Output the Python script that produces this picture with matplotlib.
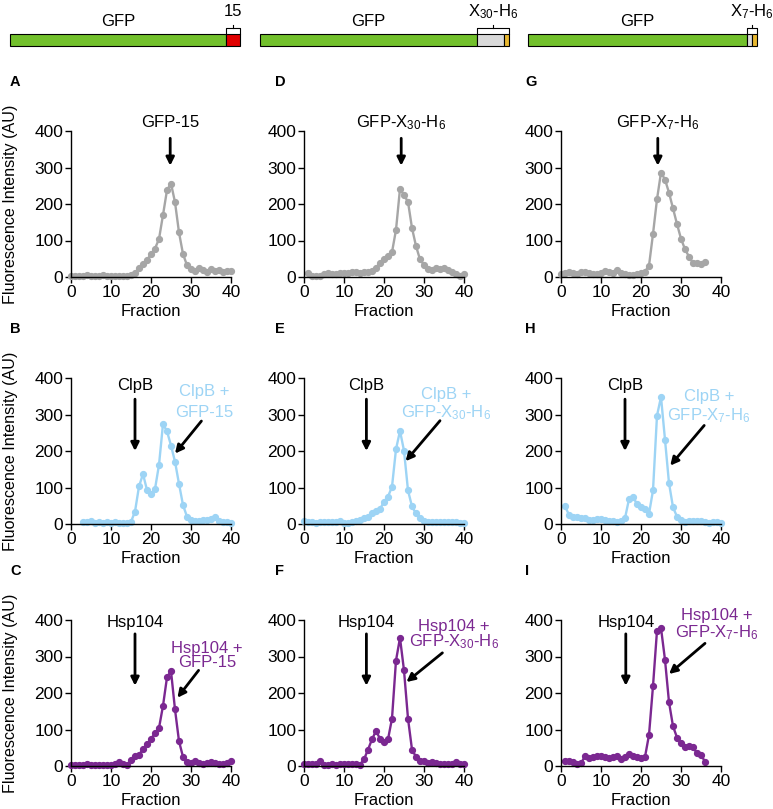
import matplotlib
matplotlib.use("Agg")
import matplotlib.pyplot as plt
from matplotlib.patches import Rectangle

plt.rcParams["font.family"] = ["Liberation Sans", "DejaVu Sans"]
plt.rcParams["mathtext.fontset"] = "custom"
plt.rcParams["mathtext.rm"] = "Liberation Sans"
plt.rcParams["mathtext.it"] = "Liberation Sans"

GRAY = "#a6a6a6"
BLUE = "#9dd4f5"
PURPLE = "#7b2891"
FS = 12

# ---------------------------------------------------------------- data
x30 = "X$\\mathregular{_{30}}$-H$\\mathregular{_6}$"
x7 = "X$\\mathregular{_7}$-H$\\mathregular{_6}$"
tags = ["15", x30, x7]

a_x = list(range(0, 41))
a_y = [3, 3, 2, 4, 6, 4, 3, 2, 5, 3, 3, 3, 3, 3, 3, 5, 11, 25, 36, 47, 62,
       78, 104, 170, 238, 256, 205, 122, 63, 32, 22, 17, 24, 18, 14, 22, 16,
       18, 15, 17, 17]

b_x = list(range(3, 41))
b_y = [6, 6, 7, 3, 5, 4, 5, 4, 5, 3, 3, 3, 6, 34, 103, 137, 93, 83, 96, 162,
       274, 254, 215, 171, 110, 52, 20, 11, 8, 8, 10, 12, 13, 19, 7, 6, 5, 4]

c_x = list(range(0, 41))
c_y = [4, 4, 4, 4, 5, 4, 4, 4, 4, 4, 4, 5, 12, 5, 2, 16, 27, 30, 47, 59, 74,
       90, 104, 165, 243, 260, 155, 68, 25, 12, 9, 14, 7, 5, 7, 10, 7, 5, 5,
       7, 14]

d_x = list(range(1, 41))
d_y = [10, 3, 4, 4, 7, 10, 7, 7, 10, 10, 12, 13, 13, 10, 14, 14, 16, 26, 38,
       48, 58, 68, 129, 242, 224, 206, 134, 85, 48, 33, 23, 20, 25, 22, 24,
       20, 14, 9, 4, 7]

e_x = list(range(0, 41))
e_y = [9, 6, 5, 4, 5, 6, 5, 6, 6, 9, 4, 4, 6, 8, 11, 16, 20, 29, 36, 41, 61,
       75, 102, 205, 255, 201, 92, 48, 29, 16, 9, 6, 6, 5, 5, 6, 5, 5, 5, 4,
       4]

f_x = list(range(0, 41))
f_y = [5, 5, 5, 6, 13, 4, 4, 6, 4, 5, 5, 5, 5, 5, 4, 18, 45, 73, 96, 75, 66,
       73, 130, 289, 351, 262, 130, 45, 25, 15, 14, 9, 12, 7, 5, 5, 5, 6, 10,
       5, 5]

g_x = list(range(0, 37))
g_y = [8, 11, 15, 11, 8, 14, 13, 11, 8, 9, 11, 16, 15, 11, 18, 11, 8, 6, 6,
       8, 11, 15, 31, 118, 213, 286, 267, 231, 188, 145, 105, 76, 56, 38, 38,
       36, 40]

h_x = list(range(1, 41))
h_y = [49, 25, 20, 20, 17, 16, 11, 11, 15, 15, 11, 8, 7, 6, 8, 16, 68, 75,
       54, 46, 41, 28, 92, 297, 348, 231, 112, 46, 20, 11, 6, 8, 9, 9, 8, 6,
       4, 5, 5, 4]

i_x = list(range(1, 37))
i_y = [15, 15, 10, 5, 7, 27, 21, 25, 27, 28, 25, 21, 24, 28, 19, 24, 32, 27,
       24, 21, 25, 85, 219, 371, 378, 291, 175, 109, 78, 62, 51, 55, 51, 35,
       30, 12]

letters = ["A", "B", "C", "D", "E", "F", "G", "H", "I"]
series = [(a_x, a_y), (b_x, b_y), (c_x, c_y),
          (d_x, d_y), (e_x, e_y), (f_x, f_y),
          (g_x, g_y), (h_x, h_y), (i_x, i_y)]
row_colors = [GRAY, BLUE, PURPLE]
chaperones = [None, "ClpB", "Hsp104"]

# ---------------------------------------------------------------- figure
W, H = 773, 809
fig = plt.figure(figsize=(W / 100, H / 100), dpi=100)

# construct diagrams along the top (pixel units)
top = fig.add_axes([0, 1 - 60 / H, 1, 60 / H])
top.set_xlim(0, W)
top.set_ylim(60, 0)
top.set_axis_off()

constructs = [
    # green start, tag start, yellow start, end
    (10, 226, None, 240),
    (260, 477, 504, 509),
    (528, 747, 752, 757),
]
for (g0, t0, y0, end), tag in zip(constructs, tags):
    top.add_patch(Rectangle((g0, 34), t0 - g0, 12, fc="#72c02c", ec="black", lw=0.8))
    if y0 is None:
        top.add_patch(Rectangle((t0, 34), end - t0, 12, fc="#e00000", ec="black", lw=0.8))
    else:
        top.add_patch(Rectangle((t0, 34), y0 - t0, 12, fc="#d9d9d9", ec="black", lw=0.8))
        top.add_patch(Rectangle((y0, 34), end - y0, 12, fc="#e8b830", ec="black", lw=0.8))
    mid = (t0 + end) / 2
    top.plot([t0, t0, end, end], [34, 28, 28, 34], color="black", lw=0.8)
    top.plot([mid, mid], [28, 24.5], color="black", lw=0.8)
    top.text(mid, 12, tag, ha="center", va="center", fontsize=FS)
    top.text((g0 + t0) / 2, 22, "GFP", ha="center", va="center", fontsize=FS)

# panels
lefts = [71, 304, 561]
letter_x = [10, 275, 525]
bottoms = [532, 285, 43]
names = ["GFP-15", "GFP-" + x30, "GFP-" + x7]

# label / arrow placement per panel (data coords)
top_lbl = [(24.8, 424), (24.3, 424), (24.2, 422)]
chap_x = [[16, 16], [15.6, 15.6], [16, 16.2]]
cplx = [  # text centre x, line1 y, line2 y, arrow start, arrow end
    [(33.3, 363, 306, (32.6, 282), (26.0, 193)),
     (34.0, 323, 284, (31.9, 262), (26.6, 187))],
    [(35.5, 356, 306, (34.0, 283), (25.4, 172)),
     (37.5, 383, 340, (34.6, 310), (25.6, 230))],
    [(37.0, 348, 298, (35.8, 270), (27.3, 160)),
     (39.0, 412, 364, (36.0, 336), (27.0, 252))],
]

for col in range(3):
    for row in range(3):
        k = col * 3 + row
        x, y = series[k]
        color = row_colors[row]
        ax = fig.add_axes([lefts[col] / W, bottoms[row] / H, 160 / W, 146 / H])
        ax.plot(x, y, "-o", color=color, lw=1.7, ms=4.2, clip_on=False)
        ax.set_xlim(0, 40)
        ax.set_ylim(0, 400)
        ax.set_xticks([0, 10, 20, 30, 40])
        ax.set_yticks([0, 100, 200, 300, 400])
        for s in ["top", "right"]:
            ax.spines[s].set_visible(False)
        for s in ["left", "bottom"]:
            ax.spines[s].set_linewidth(1.0)
        ax.tick_params(direction="out", length=4, width=1.0, labelsize=12.5, pad=1.5)
        ax.set_xlabel("Fraction", fontsize=FS, labelpad=3)
        if col == 0:
            ax.set_ylabel("Fluorescence Intensity (AU)", fontsize=11.6)
            ax.yaxis.set_label_coords(-0.33, 0.5)
        fig.text(letter_x[col] / W, (bottoms[row] + 146 + 49) / H,
                 letters[k], fontsize=10.5, fontweight="bold", ha="left", va="center")

        arrow = dict(arrowstyle="-|>", color="black", lw=2, mutation_scale=12,
                     shrinkA=0, shrinkB=0)
        if row == 0:
            tx, ty = top_lbl[col]
            ax.text(tx, ty, names[col], ha="center", va="center", fontsize=FS,
                    clip_on=False)
            ax.annotate("", xy=(tx, 305), xytext=(tx, 380), arrowprops=arrow,
                        annotation_clip=False)
        else:
            cx = chap_x[col][row - 1]
            ax.text(cx, 394 if row == 2 else 379, chaperones[row], ha="center",
                    va="center", fontsize=FS, clip_on=False)
            ax.annotate("", xy=(cx, 200 if row == 1 else 220),
                        xytext=(cx, 362 if row == 2 else 342),
                        arrowprops=arrow, annotation_clip=False)
            mx, l1, l2, a0, a1 = cplx[col][row - 1]
            ax.text(mx, l1, chaperones[row] + " +", ha="center", va="center",
                    fontsize=FS, color=color, clip_on=False)
            ax.text(mx, l2, names[col], ha="center", va="center",
                    fontsize=FS, color=color, clip_on=False)
            ax.annotate("", xy=a1, xytext=a0, arrowprops=arrow,
                        annotation_clip=False)

fig.savefig("out.png", dpi=100)
